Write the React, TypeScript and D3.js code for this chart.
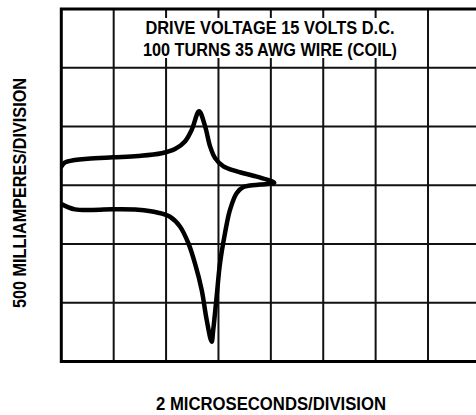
import React from "react";
import * as d3 from "d3";

// Trace: time (µs) and current (mA), in drawing order
const traceTime = [
  0, 0.13, 0.52, 1.01, 1.97, 2.93, 3.83, 4.34, 4.72, 4.98, 5.26, 5.49, 5.68, 5.87, 6.19, 6.7, 7.33, 7.85, 8.13,
  7.59, 7.21, 6.95, 6.7, 6.44, 6.25, 6.06, 5.93, 5.8, 5.74, 5.55, 5.36, 5.1, 4.85, 4.53, 4.15, 3.7, 2.93, 1.98, 0.52, 0,
];
const traceCurrent = [
  158, 192, 215, 226, 238, 249, 272, 308, 373, 473, 629, 501, 331, 232, 160, 118, 81, 47, 21,
  6, -2, -15, -66, -209, -407, -663, -948, -1232, -1331, -1146, -891, -663, -493, -351, -268, -234, -209, -205, -205, -160,
];

const timeDivisions = [0, 2, 4, 6, 8, 10, 12, 14, 16];
const currentDivisions = [-1500, -1000, -500, 0, 500, 1000, 1500];

const titleLines = ["DRIVE VOLTAGE 15 VOLTS D.C.", "100 TURNS 35 AWG WIRE (COIL)"];
const xLabel = "2 MICROSECONDS/DIVISION";
const yLabel = "500 MILLIAMPERES/DIVISION";

export default function App() {
  const W = 476;
  const H = 415;
  const x = d3.scaleLinear().domain([0, 16]).range([61.3, 480.4]);
  const y = d3.scaleLinear().domain([-1500, 1500]).range([361.5, 9]);

  const pts: [number, number][] = traceTime.map((t, i) => [t, traceCurrent[i]]);
  const line = d3
    .line<[number, number]>()
    .x((d) => x(d[0]))
    .y((d) => y(d[1]))
    .curve(d3.curveCatmullRom.alpha(0.5));

  const font = "'Liberation Sans Narrow', 'Liberation Sans', Arial, sans-serif";
  const x0 = x(0);
  const x1 = x(16);
  const y0 = y(-1500);
  const y1 = y(1500);

  return (
    <svg
      width={W}
      height={H}
      style={{ position: "absolute", left: 0, top: 0, background: "#fff" }}
    >
      <defs>
        <clipPath id="plot">
          <rect x={x0} y={y1} width={x1 - x0} height={y0 - y1} />
        </clipPath>
      </defs>
      {timeDivisions.slice(1, -1).map((t) => (
        <line key={"v" + t} x1={x(t)} x2={x(t)} y1={y1} y2={y0} stroke="#111" strokeWidth={2} />
      ))}
      {currentDivisions.slice(1, -1).map((c) => (
        <line key={"h" + c} x1={x0} x2={x1} y1={y(c)} y2={y(c)} stroke="#111" strokeWidth={2} />
      ))}
      <rect x={x0} y={y1} width={x1 - x0} height={y0 - y1} fill="none" stroke="#000" strokeWidth={3} />
      <rect x={x(2) + 3} y={18} width={x(14) - x(2) - 6} height={40} fill="#fff" />
      {titleLines.map((s, i) => (
        <text
          key={s}
          x={270}
          y={i === 0 ? 33.5 : 56}
          textAnchor="middle"
          fontFamily={font}
          fontWeight="bold"
          fontSize={17.5}
          textLength={i === 0 ? 249 : 254}
          lengthAdjust="spacingAndGlyphs"
          fill="#000"
        >
          {s}
        </text>
      ))}
      <path
        d={line(pts) || ""}
        fill="none"
        stroke="#000"
        strokeWidth={4.5}
        strokeLinejoin="round"
        strokeLinecap="round"
        clipPath="url(#plot)"
      />
      <text
        x={271}
        y={410}
        textAnchor="middle"
        fontFamily={font}
        fontWeight="bold"
        fontSize={17.5}
        textLength={230}
        lengthAdjust="spacingAndGlyphs"
        fill="#000"
      >
        {xLabel}
      </text>
      <text
        transform="translate(26,193) rotate(-90)"
        textAnchor="middle"
        fontFamily={font}
        fontWeight="bold"
        fontSize={17.5}
        textLength={230}
        lengthAdjust="spacingAndGlyphs"
        fill="#000"
      >
        {yLabel}
      </text>
    </svg>
  );
}
